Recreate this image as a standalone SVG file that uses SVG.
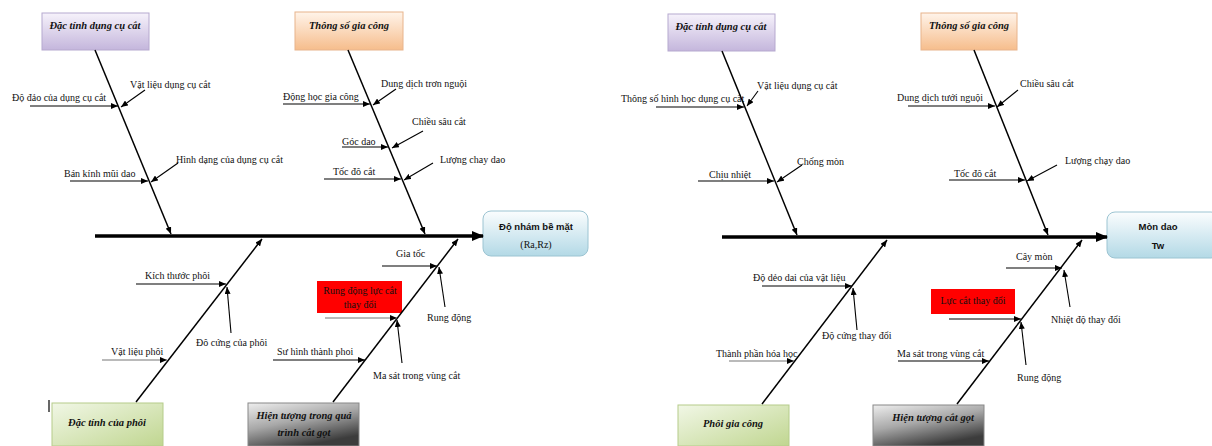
<svg xmlns="http://www.w3.org/2000/svg" width="1212" height="446" viewBox="0 0 1212 446">
<style>
.lbl{font-family:"Liberation Serif","Times New Roman",serif;font-size:10px;fill:#111}
.ttl{font-family:"Liberation Serif","Times New Roman",serif;font-size:10.5px;font-weight:bold;font-style:italic;fill:#111;text-anchor:middle}
.res{font-family:"Liberation Sans",Arial,sans-serif;font-size:9.5px;font-weight:bold;fill:#111;text-anchor:middle}
.bone{stroke:#000;stroke-width:1.5;fill:none;marker-end:url(#ah)}
.sub{stroke:#000;stroke-width:1.1;fill:none;marker-end:url(#ah)}
.subg{stroke:#777;stroke-width:1.1;fill:none;marker-end:url(#ah)}
.spine{stroke:#000;stroke-width:3.5;fill:none;marker-end:url(#big)}
</style>
<defs>
<marker id="ah" markerUnits="userSpaceOnUse" markerWidth="7" markerHeight="6" refX="7" refY="3" orient="auto"><path d="M0,0 L7,3 L0,6 z" fill="#000"/></marker>
<marker id="big" markerUnits="userSpaceOnUse" markerWidth="12" markerHeight="10" refX="11" refY="5" orient="auto"><path d="M0,0 L12,5 L0,10 z" fill="#000"/></marker>
<linearGradient id="gLav" x1="0" y1="0" x2="0" y2="1"><stop offset="0" stop-color="#f6f2fb"/><stop offset="1" stop-color="#c4b6dc"/></linearGradient>
<linearGradient id="gPea" x1="0" y1="0" x2="0" y2="1"><stop offset="0" stop-color="#fff4ea"/><stop offset="1" stop-color="#f6bd8c"/></linearGradient>
<linearGradient id="gGrn" x1="0" y1="0" x2="1" y2="1"><stop offset="0" stop-color="#f1f7e6"/><stop offset="1" stop-color="#c0d690"/></linearGradient>
<linearGradient id="gGry" x1="0" y1="0" x2="0.5" y2="1"><stop offset="0" stop-color="#eeeeee"/><stop offset="0.5" stop-color="#a8a8a8"/><stop offset="1" stop-color="#3c3c3c"/></linearGradient>
<linearGradient id="gRes" x1="0" y1="0" x2="0" y2="1"><stop offset="0" stop-color="#fbfdfe"/><stop offset="1" stop-color="#b3d9e6"/></linearGradient>
</defs>

<!-- LEFT DIAGRAM -->
<g id="L-tool"><rect x="42" y="13" width="107" height="37" fill="url(#gLav)" stroke="#b6a9cf" stroke-width="1"/><text class="ttl" x="95" y="29">Đặc tính dụng cụ cắt</text></g>
<g id="L-param"><rect x="295" y="12" width="108" height="38" fill="url(#gPea)" stroke="#e8b48c" stroke-width="1"/><text class="ttl" x="349" y="29">Thông số gia công</text></g>
<g id="L-blank"><rect x="52" y="403" width="111" height="43" fill="url(#gGrn)" stroke="#b5cc8a" stroke-width="1"/><text class="ttl" x="107" y="426">Đặc tính của phôi</text></g>
<g id="L-phen"><rect x="248" y="403" width="111" height="43" fill="url(#gGry)" stroke="#888" stroke-width="1"/><text class="ttl" x="304" y="419">Hiện tượng trong quá</text><text class="ttl" x="304" y="436">trình cắt gọt</text></g>
<g id="L-result"><rect x="483" y="211" width="105" height="45" rx="8" fill="url(#gRes)" stroke="#9cc4d2" stroke-width="1"/><text class="res" x="536" y="230">Độ nhám bề mặt</text><text class="lbl" x="536" y="248" text-anchor="middle">(Ra,Rz)</text></g>
<g id="L-red"><rect x="317" y="281" width="85" height="32" fill="#ff0000"/><text class="lbl" x="360" y="294" text-anchor="middle" fill="#300">Rung động lực cắt</text><text class="lbl" x="360" y="308" text-anchor="middle" fill="#300">thay đổi</text></g>
<line x1="49" y1="400" x2="49" y2="412" stroke="#000" stroke-width="1.2"/>

<g id="L-labels">
<text class="lbl" x="12" y="101">Độ đảo của dụng cụ cắt</text>
<text class="lbl" x="130" y="88">Vật liệu dụng cụ cắt</text>
<text class="lbl" x="64" y="177">Bán kính mũi dao</text>
<text class="lbl" x="176" y="163">Hình dạng của dụng cụ cắt</text>
<text class="lbl" x="283" y="100">Động học gia công</text>
<text class="lbl" x="381" y="87">Dung dịch trơn nguội</text>
<text class="lbl" x="342" y="145">Góc dao</text>
<text class="lbl" x="412" y="125">Chiều sâu cắt</text>
<text class="lbl" x="333" y="175">Tốc đô cắt</text>
<text class="lbl" x="440" y="163">Lượng chay dao</text>
<text class="lbl" x="145" y="279">Kích thước phôi</text>
<text class="lbl" x="196" y="346">Đô cứng của phôi</text>
<text class="lbl" x="111" y="355">Vật liệu phôi</text>
<text class="lbl" x="396" y="257">Gia tốc</text>
<text class="lbl" x="427" y="321">Rung động</text>
<text class="lbl" x="373" y="379">Ma sát trong vùng cắt</text>
<text class="lbl" x="277" y="355">Sư hình thành phoi</text>
</g>

<!-- RIGHT DIAGRAM -->
<g id="R-tool"><rect x="668" y="14" width="107" height="37" fill="url(#gLav)" stroke="#b6a9cf" stroke-width="1"/><text class="ttl" x="721" y="30">Đặc tính dụng cụ cắt</text></g>
<g id="R-param"><rect x="921" y="13" width="96" height="37" fill="url(#gPea)" stroke="#e8b48c" stroke-width="1"/><text class="ttl" x="969" y="29">Thông số gia công</text></g>
<g id="R-blank"><rect x="678" y="405" width="111" height="41" fill="url(#gGrn)" stroke="#b5cc8a" stroke-width="1"/><text class="ttl" x="733" y="427">Phôi gia công</text></g>
<g id="R-phen"><rect x="873" y="405" width="111" height="41" fill="url(#gGry)" stroke="#888" stroke-width="1"/><text class="ttl" x="933" y="421">Hiện tượng cắt gọt</text></g>
<g id="R-result"><rect x="1107" y="212" width="112" height="46" rx="8" fill="url(#gRes)" stroke="#9cc4d2" stroke-width="1"/><text class="res" x="1158" y="230">Mòn dao</text><text class="res" x="1158" y="249">Tw</text></g>
<g id="R-red"><rect x="931" y="289" width="84" height="25" fill="#ff0000"/><text class="lbl" x="973" y="304" text-anchor="middle" fill="#300">Lực cắt thay đổi</text></g>

<g id="R-labels">
<text class="lbl" x="621" y="102">Thông số hình học dụng cụ cắt</text>
<text class="lbl" x="757" y="89">Vật liệu dụng cụ cắt</text>
<text class="lbl" x="709" y="178">Chịu nhiệt</text>
<text class="lbl" x="797" y="165">Chống mòn</text>
<text class="lbl" x="897" y="101">Dung dịch tưới nguội</text>
<text class="lbl" x="1020" y="87">Chiều sâu cắt</text>
<text class="lbl" x="954" y="177">Tốc đô cắt</text>
<text class="lbl" x="1065" y="164">Lượng chạy dao</text>
<text class="lbl" x="753" y="281">Độ dẻo dai của vật liệu</text>
<text class="lbl" x="822" y="339">Độ cứng thay đổi</text>
<text class="lbl" x="716" y="357">Thành phần hóa học</text>
<text class="lbl" x="1016" y="260">Cây mòn</text>
<text class="lbl" x="1051" y="323">Nhiệt độ thay đổi</text>
<text class="lbl" x="1017" y="381">Rung động</text>
<text class="lbl" x="897" y="357">Ma sát trong vùng cắt</text>
</g>

<g id="connectors">
<!-- left -->
<line class="spine" x1="95" y1="236" x2="483" y2="236"/>
<line class="bone" x1="95" y1="50" x2="171" y2="234"/>
<line class="bone" x1="348" y1="50" x2="425" y2="234"/>
<line class="bone" x1="136" y1="402" x2="262" y2="239"/>
<line class="bone" x1="333" y1="402" x2="458" y2="239"/>
<line class="sub" x1="30" y1="106" x2="118" y2="106"/>
<line class="sub" x1="145" y1="90" x2="121" y2="107"/>
<line class="sub" x1="70" y1="181" x2="148" y2="181"/>
<line class="sub" x1="178" y1="163" x2="151" y2="182"/>
<line class="sub" x1="283" y1="104" x2="370" y2="104"/>
<line class="sub" x1="396" y1="89" x2="373" y2="105"/>
<line class="sub" x1="342" y1="147" x2="388" y2="147"/>
<line class="sub" x1="423" y1="131" x2="392" y2="148"/>
<line class="sub" x1="324" y1="179" x2="401" y2="179"/>
<line class="sub" x1="433" y1="163" x2="404" y2="180"/>
<line class="sub" x1="136" y1="284" x2="226" y2="284"/>
<line class="sub" x1="231" y1="333" x2="227" y2="287"/>
<line class="subg" x1="102" y1="360" x2="167" y2="360"/>
<line class="sub" x1="382" y1="266" x2="437" y2="266"/>
<line class="sub" x1="445" y1="307" x2="439" y2="267"/>
<line class="subg" x1="325" y1="318" x2="397" y2="318"/>
<line class="sub" x1="402" y1="363" x2="397" y2="320"/>
<line class="sub" x1="273" y1="360" x2="365" y2="360"/>
<!-- right -->
<line class="spine" x1="722" y1="237" x2="1107" y2="237"/>
<line class="bone" x1="722" y1="51" x2="797" y2="235"/>
<line class="bone" x1="974" y1="50" x2="1048" y2="235"/>
<line class="bone" x1="762" y1="404" x2="887" y2="240"/>
<line class="bone" x1="957" y1="404" x2="1082" y2="240"/>
<line class="sub" x1="656" y1="107" x2="744" y2="107"/>
<line class="sub" x1="758" y1="91" x2="747" y2="106"/>
<line class="sub" x1="698" y1="181" x2="774" y2="181"/>
<line class="sub" x1="802" y1="165" x2="777" y2="182"/>
<line class="sub" x1="908" y1="106" x2="995" y2="106"/>
<line class="sub" x1="1018" y1="90" x2="997" y2="107"/>
<line class="sub" x1="949" y1="180" x2="1025" y2="180"/>
<line class="sub" x1="1057" y1="165" x2="1027" y2="181"/>
<line class="sub" x1="762" y1="286" x2="852" y2="286"/>
<line class="sub" x1="857" y1="330" x2="853" y2="288"/>
<line class="subg" x1="729" y1="361" x2="794" y2="361"/>
<line class="sub" x1="1006" y1="268" x2="1062" y2="268"/>
<line class="sub" x1="1070" y1="307" x2="1064" y2="270"/>
<line class="sub" x1="949" y1="319" x2="1021" y2="319"/>
<line class="sub" x1="1026" y1="365" x2="1021" y2="322"/>
<line class="sub" x1="898" y1="361" x2="989" y2="361"/>
</g>
</svg>
